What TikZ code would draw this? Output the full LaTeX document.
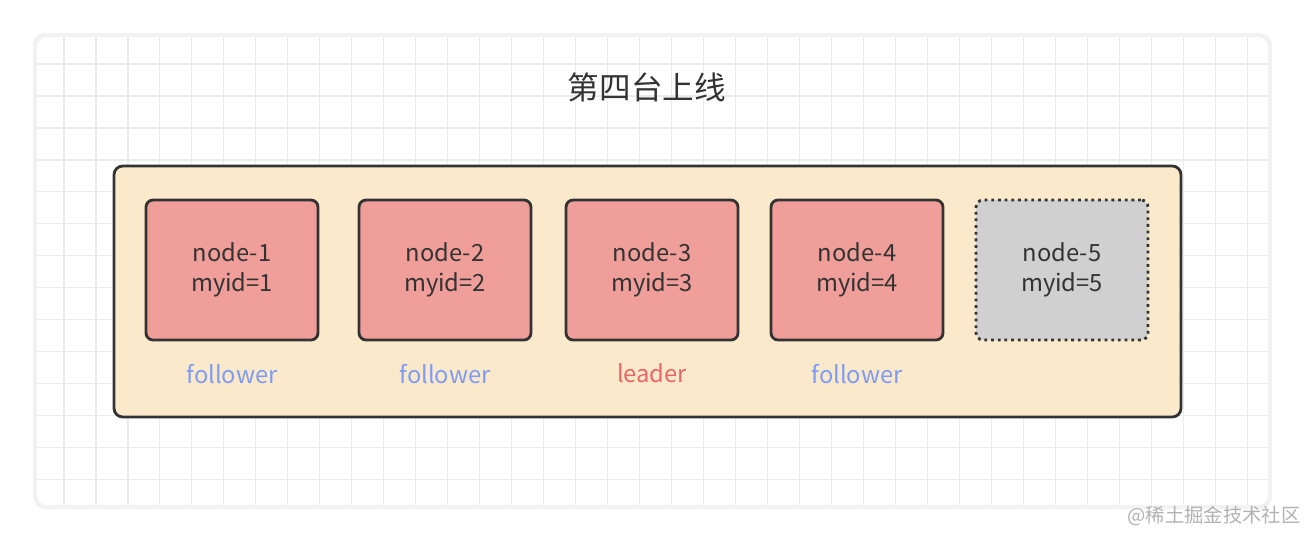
\documentclass[tikz,border=0pt]{standalone}
\usepackage{fontspec}
\setmainfont{Noto Sans CJK SC}
\usetikzlibrary{positioning}
\definecolor{boxfill}{HTML}{FAEACB}
\definecolor{nodefill}{HTML}{F09E9A}
\definecolor{offfill}{HTML}{D0D0D0}
\definecolor{edge}{HTML}{333333}
\definecolor{follow}{HTML}{7F9BF5}
\definecolor{lead}{HTML}{EC6565}
\definecolor{gridc}{HTML}{EBEBEB}
\begin{document}
\begin{tikzpicture}[x=0.02cm,y=-0.02cm]
        \tikzset{srv/.style={draw=edge, line width=1.6pt, rounded corners=4pt, fill=nodefill,
                minimum width=3.44cm, minimum height=2.8cm, align=center, font=\fontsize{13.5}{17}\selectfont, text=edge},
            role/.style={font=\fontsize{13.5}{15}\selectfont}};
        \useasboundingbox (0,0) rectangle (1304,542);
        \fill[white] (0,0) rectangle (1304,542);
        \fill[black!5,rounded corners=7pt] (33,33) rectangle (1272,509);
        \fill[white,rounded corners=6pt] (37,37) rectangle (1268,505);
        \begin{scope}
            \clip[rounded corners=6pt] (37,37) rectangle (1268,505);
            \draw[gridc, line width=0.6pt, step=0.64cm] (0,0) grid (1304,542);
        \end{scope}
        \node[font=\fontsize{18}{20}\selectfont, text=edge] (title) at (647,87) {第四台上线};
        \draw[edge, line width=1.6pt, rounded corners=5pt, fill=boxfill] (114,166) rectangle (1181,417);
        \node[srv] (n1) at (232,270) {node-1\\myid=1};
        \node[srv] (n2) at (445,270) {node-2\\myid=2};
        \node[srv] (n3) at (652,270) {node-3\\myid=3};
        \node[srv] (n4) at (857,270) {node-4\\myid=4};
        \node[srv, fill=offfill, dash pattern=on 1.6pt off 2.2pt] (n5) at (1062,270) {node-5\\myid=5};
        \node[role, text=follow, below=0.33cm of n1] (r1) {follower};
        \node[role, text=follow, below=0.33cm of n2] (r2) {follower};
        \node[role, text=lead, below=0.33cm of n3] (r3) {leader};
        \node[role, text=follow, below=0.33cm of n4] (r4) {follower};
        \node[font=\fontsize{11}{13}\selectfont, text=black!30] (mark) at (1214,516) {@稀土掘金技术社区};
    \end{tikzpicture}
\end{document}
